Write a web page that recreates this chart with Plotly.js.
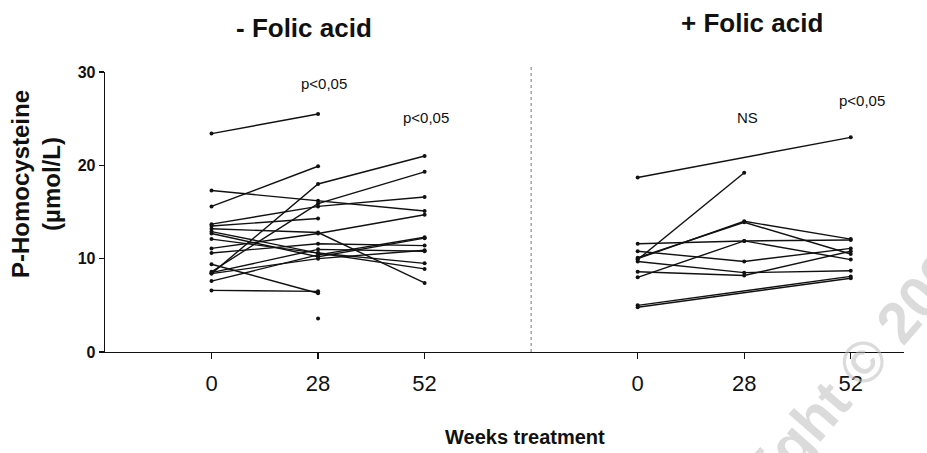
<!DOCTYPE html>
<html>
<head>
<meta charset="utf-8">
<script src="https://cdn.plot.ly/plotly-3.0.1.min.js"></script>
<style>body{margin:0;background:#fff}</style>
</head>
<body>
<div id="chart" style="width:927px;height:453px"></div>
<script>
// Tick labels (weeks of treatment)
const weeks = ['0', '28', '52'];
const panelTitles = ['- Folic acid', '+ Folic acid'];

// - Folic acid group: one entry per patient (null = no measurement)
const noFolicWeek0  = [23.4, 15.6, 17.3,  8.4,  8.6, 13.7, 13.5, 13.2, 12.7, 12.1, 11.1, 10.6,  9.4,  8.4,  7.6,  6.6, null, 12.9,  8.5];
const noFolicWeek28 = [25.5, 19.9, 16.2, 18.0, 15.9, 15.6, 14.3, 12.8, 10.2, 10.6, 12.7, 11.6,  6.3, 10.0, 10.4,  6.5,  3.6, 10.6, 11.0];
const noFolicWeek52 = [null, null, 15.1, 21.0, 19.3, 16.6, null,  7.4, 12.2,  9.5, 14.7, 11.4, null, 10.9, 12.3, null, null,  8.9, 10.8];

// + Folic acid group
const folicWeek0  = [18.7,  9.9, 10.0, 10.1, 11.6, 10.8,  9.7,  8.0,  8.6,  4.8,  5.0];
const folicWeek28 = [null, 19.2, 14.0, 13.9, 11.9,  9.7,  8.5, 11.9,  8.2, null, null];
const folicWeek52 = [23.0, null, 12.1, 10.5, 12.0, 11.1,  8.7,  9.9, 10.8,  7.9,  8.1];

// Significance labels above each follow-up week
const sigLeft  = ['p<0,05', 'p<0,05'];
const sigRight = ['NS', 'p<0,05'];

const FONT = 'Liberation Sans, Arial, Helvetica, sans-serif';
const INK = '#111';

function subjectTraces(w0, w28, w52, offset) {
  return w0.map((v, i) => ({
    type: 'scatter',
    mode: 'lines+markers',
    x: [offset + 0, offset + 1, offset + 2],
    y: [w0[i], w28[i], w52[i]],
    connectgaps: true,
    line: {color: INK, width: 1.4},
    marker: {color: INK, size: 4},
    hoverinfo: 'y',
    showlegend: false
  }));
}

const traces = [
  ...subjectTraces(noFolicWeek0, noFolicWeek28, noFolicWeek52, 0),
  ...subjectTraces(folicWeek0, folicWeek28, folicWeek52, 4)
];

// positions given in pixels of the 927x453 picture, converted to paper coordinates below
const annotations = [
  {text: panelTitles[0], x: 304, y: 28, showarrow: false, font: {family: FONT, size: 26, weight: 'bold', color: INK}},
  {text: panelTitles[1], x: 752, y: 23, showarrow: false, font: {family: FONT, size: 26, weight: 'bold', color: INK}},
  {text: sigLeft[0], x: 324, y: 84, showarrow: false, font: {family: FONT, size: 15, color: INK}},
  {text: sigLeft[1], x: 426, y: 117, showarrow: false, font: {family: FONT, size: 15, color: INK}},
  {text: sigRight[0], x: 747, y: 117, showarrow: false, font: {family: FONT, size: 15, color: INK}},
  {text: sigRight[1], x: 862, y: 101, showarrow: false, font: {family: FONT, size: 15, color: INK}},
  {text: 'P-Homocysteine<br>(µmol/L)', x: 36, y: 184, textangle: -90,
   showarrow: false, font: {family: FONT, size: 24, weight: 'bold', color: INK}},
  {text: 'Weeks treatment', x: 525, y: 437, showarrow: false,
   font: {family: FONT, size: 20, weight: 'bold', color: INK}},
  {text: 'Copyright © 2005', x: 815, y: 416, textangle: -49,
   showarrow: false, font: {family: FONT, size: 58, weight: 'bold', color: 'rgba(190,190,190,0.55)'}}
];

const L = 105, R = 23, T = 72, B = 101, W = 927, H = 453;
const pw = W - L - R, ph = H - T - B;
annotations.forEach(a => {
  a.xref = 'paper'; a.yref = 'paper';
  a.x = (a.x - L) / pw;
  a.y = (H - B - a.y) / ph;
  a.xanchor = 'center'; a.yanchor = 'middle';
});

const layout = {
  width: W, height: H,
  margin: {l: L, r: R, t: T, b: B},
  paper_bgcolor: '#fff', plot_bgcolor: '#fff',
  font: {family: FONT, color: INK},
  xaxis: {
    range: [-1, 6.5],
    tickvals: [0, 1, 2, 4, 5, 6],
    ticktext: [...weeks, ...weeks],
    ticks: 'outside', ticklen: 6, tickwidth: 1.2, tickcolor: INK,
    showline: true, linecolor: INK, linewidth: 1.3,
    showgrid: false, zeroline: false,
    tickfont: {family: FONT, size: 22, color: INK},
    ticklabelstandoff: 5
  },
  yaxis: {
    range: [0, 30],
    tickvals: [0, 10, 20, 30],
    ticks: 'outside', ticklen: 5, tickwidth: 1.2, tickcolor: INK,
    showline: true, linecolor: INK, linewidth: 1.3,
    showgrid: false, zeroline: false,
    tickfont: {family: FONT, size: 16, weight: 'bold', color: INK}
  },
  shapes: [
    {type: 'line', xref: 'x', yref: 'paper', x0: 3, x1: 3, y0: 0, y1: 1.025,
     line: {color: '#777', width: 1, dash: 'dot'}}
  ],
  annotations: annotations
};

Plotly.newPlot('chart', traces, layout, {staticPlot: true, displayModeBar: false});
</script>
</body>
</html>
